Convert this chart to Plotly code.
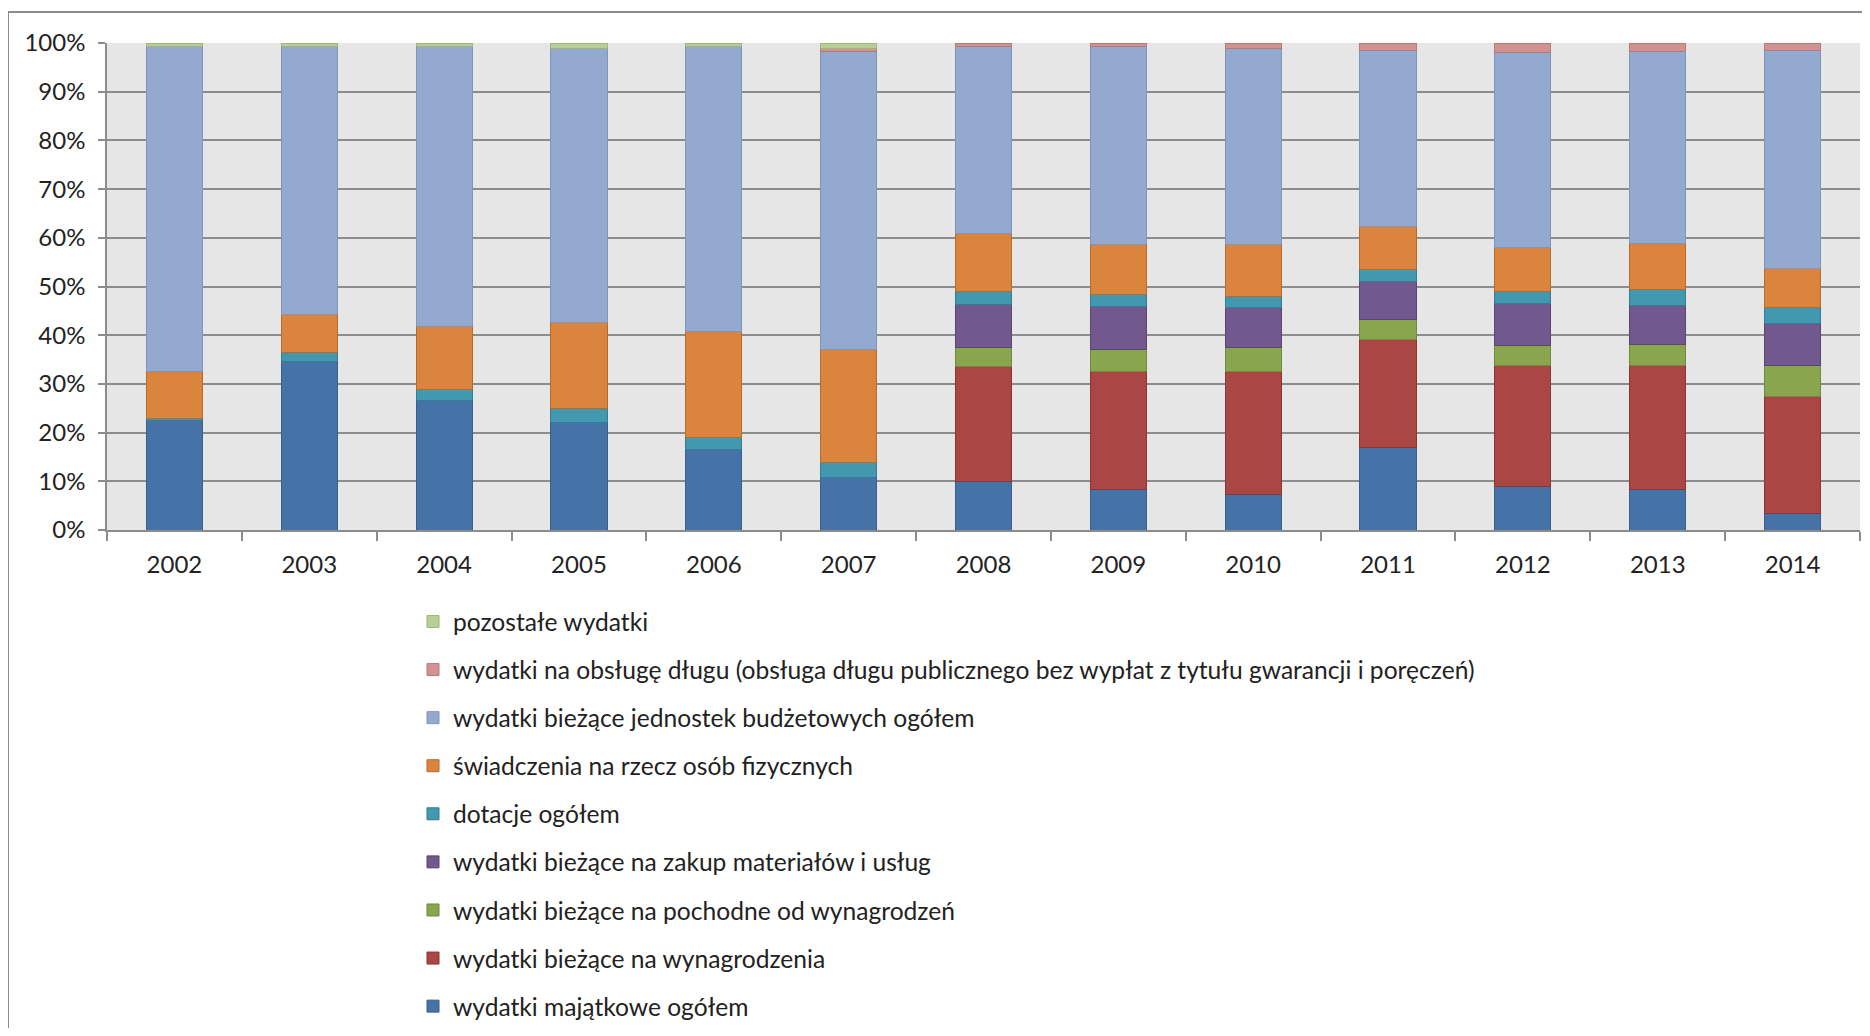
import plotly.graph_objects as go

years = ['2002', '2003', '2004', '2005', '2006', '2007', '2008', '2009', '2010', '2011', '2012', '2013', '2014']

majatkowe = [22.4, 34.7, 26.6, 22.1, 16.5, 10.8, 9.9, 8.3, 7.2, 16.9, 9.0, 8.3, 3.3]
wynagrodzenia = [None, None, None, None, None, None, 23.6, 24.3, 25.4, 22.3, 24.8, 25.5, 24.1]
pochodne = [None, None, None, None, None, None, 4.0, 4.5, 4.8, 4.0, 4.1, 4.3, 6.4]
zakup = [None, None, None, None, None, None, 8.8, 8.7, 8.2, 7.9, 8.6, 7.9, 8.6]
dotacje = [0.4, 1.8, 2.3, 2.9, 2.5, 3.0, 2.6, 2.6, 2.4, 2.4, 2.4, 3.3, 3.2]
swiadczenia = [9.8, 7.8, 12.9, 17.6, 21.7, 23.3, 11.9, 10.3, 10.6, 8.8, 9.2, 9.6, 8.1]
jednostek = [66.7, 55.0, 57.5, 56.2, 58.6, 61.1, 38.5, 40.6, 40.2, 36.2, 39.9, 39.3, 44.8]
dlug = [None, None, None, None, None, 0.7, 0.7, 0.7, 1.2, 1.5, 2.0, 1.8, 1.5]
pozostale = [0.7, 0.7, 0.7, 1.2, 0.7, 1.1, None, None, None, None, None, None, None]

series = [
    ("wydatki majątkowe ogółem", majatkowe, "#4572A7", "#38608F"),
    ("wydatki bieżące na wynagrodzenia", wynagrodzenia, "#AA4643", "#8E3432"),
    ("wydatki bieżące na pochodne od wynagrodzeń", pochodne, "#89A54E", "#6F8A3C"),
    ("wydatki bieżące na zakup materiałów i usług", zakup, "#71588F", "#5A4575"),
    ("dotacje ogółem", dotacje, "#4198AF", "#327D91"),
    ("świadczenia na rzecz osób fizycznych", swiadczenia, "#DB843D", "#B96A2A"),
    ("wydatki bieżące jednostek budżetowych ogółem", jednostek, "#93A9CF", "#7F95BB"),
    ("wydatki na obsługę długu (obsługa długu publicznego bez wypłat z tytułu gwarancji i poręczeń)", dlug, "#D19392", "#B87A79"),
    ("pozostałe wydatki", pozostale, "#B9CD96", "#A0B57D"),
]

FONT = "Lato"
TICK_SIZE = 24
LEG_SIZE = 24.6

fig = go.Figure()
n = len(series)
for i, (name, vals, col, lc) in enumerate(series):
    fig.add_trace(go.Bar(
        x=years, y=vals, name=name, legendgroup=f"g{i}",
        legendrank=100 * (n - i),
        marker=dict(color=col, line=dict(color=lc, width=1)),
    ))

W, H = 1854, 1020
ml, mr, mt, mb = 99, 2, 35, 498
pw = W - ml - mr
ph = H - mt - mb

def px_x(fx):
    return (fx - ml) / pw

def px_y(fy):
    return (H - mb - fy) / ph

fig.update_layout(
    width=W, height=H,
    margin=dict(l=ml, r=mr, t=mt, b=mb, pad=0, autoexpand=False),
    barmode="stack",
    bargap=0.584,
    paper_bgcolor="white",
    plot_bgcolor="#E6E6E6",
    font=dict(family=FONT, size=TICK_SIZE, color="#222222"),
    showlegend=True,
    legend=dict(
        x=px_x(405), xanchor="left",
        y=px_y(591), yanchor="top",
        traceorder="grouped",
        tracegroupgap=13.1,
        itemwidth=30,
        font=dict(family=FONT, size=LEG_SIZE, color="#222222"),
        bgcolor="rgba(0,0,0,0)",
    ),
    xaxis=dict(
        type="category",
        showgrid=False,
        showline=True, linecolor="#8C8C8C", linewidth=1.5,
        ticks="outside", ticklen=9, tickcolor="#8C8C8C", tickwidth=1.5,
        tickson="boundaries",
        ticklabelstandoff=12,
        tickfont=dict(family=FONT, size=TICK_SIZE, color="#222222"),
    ),
    yaxis=dict(
        range=[0, 100],
        dtick=10,
        ticksuffix="%",
        showgrid=True, gridcolor="#8C8C8C", gridwidth=1.5,
        showline=True, linecolor="#8C8C8C", linewidth=1.5,
        ticks="outside", ticklen=7, tickcolor="#8C8C8C", tickwidth=1.5,
        zeroline=False,
        ticklabelstandoff=8,
        tickfont=dict(family=FONT, size=TICK_SIZE, color="#222222"),
    ),
    shapes=[
        dict(type="rect", xref="paper", yref="paper",
             x0=px_x(0), x1=px_x(W + 40), y0=px_y(H + 40), y1=px_y(4),
             line=dict(color="#8C8C8C", width=2), fillcolor="rgba(0,0,0,0)",
             layer="below"),
    ],
)

fig.write_html("out.html")
